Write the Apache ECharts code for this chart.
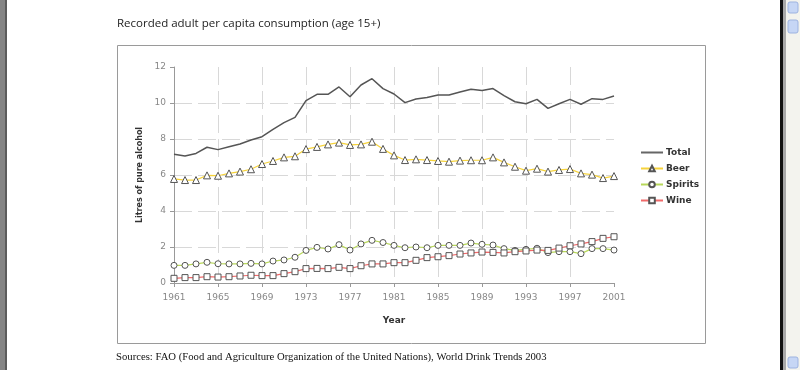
<!DOCTYPE html>
<html>
<head>
<meta charset="utf-8">
<script src="https://cdn.jsdelivr.net/npm/echarts@6/dist/echarts.min.js"></script>
<style>
html,body{margin:0;padding:0;background:#fff;}
#c{width:800px;height:370px;}
</style>
</head>
<body>
<div id="c"></div>
<script>
var years = ['1961','1962','1963','1964','1965','1966','1967','1968','1969','1970',
  '1971','1972','1973','1974','1975','1976','1977','1978','1979','1980',
  '1981','1982','1983','1984','1985','1986','1987','1988','1989','1990',
  '1991','1992','1993','1994','1995','1996','1997','1998','1999','2000','2001'];
var total = [7.15,7.06,7.2,7.54,7.41,7.57,7.72,7.94,8.13,8.54,
  8.91,9.2,10.13,10.48,10.48,10.89,10.35,11.0,11.35,10.8,
  10.5,10.02,10.22,10.3,10.44,10.44,10.61,10.76,10.69,10.8,
  10.41,10.07,9.96,10.2,9.7,9.96,10.2,9.93,10.24,10.2,10.39];
var beer = [5.78,5.72,5.72,5.98,5.96,6.09,6.19,6.32,6.61,6.78,
  6.98,7.04,7.44,7.56,7.7,7.8,7.67,7.7,7.85,7.45,
  7.09,6.83,6.87,6.83,6.78,6.74,6.8,6.82,6.82,6.98,
  6.7,6.46,6.24,6.35,6.19,6.28,6.33,6.09,6.02,5.83,5.94];
var spirits = [0.98,0.98,1.06,1.15,1.07,1.06,1.06,1.09,1.06,1.22,
  1.28,1.43,1.81,1.98,1.89,2.13,1.83,2.17,2.37,2.25,
  2.09,1.96,2.0,1.96,2.09,2.09,2.09,2.22,2.15,2.11,
  1.91,1.81,1.87,1.93,1.69,1.74,1.74,1.63,1.91,1.91,1.83];
var wine = [0.26,0.3,0.3,0.35,0.33,0.35,0.39,0.43,0.41,0.41,
  0.52,0.63,0.8,0.81,0.8,0.87,0.8,0.96,1.06,1.06,
  1.13,1.13,1.26,1.41,1.46,1.52,1.61,1.67,1.72,1.7,
  1.67,1.74,1.78,1.83,1.81,1.94,2.07,2.17,2.3,2.48,2.57];
var seriesNames = ['Total','Beer','Spirits','Wine'];
var titleText = 'Recorded adult per capita consumption (age 15+)';
var sourceText = 'Sources: FAO (Food and Agriculture Organization of the United Nations), World Drink Trends 2003';
var yAxisName = 'Litres of pure alcohol';
var xAxisName = 'Year';

var font = '"DejaVu Sans", Verdana, sans-serif';
var chart = echarts.init(document.getElementById('c'), null, {renderer:'canvas'});
var mk = {color:'#fff', borderColor:'#555', borderWidth:1};
var lineIcon = 'path://M0,0 L0.01,0 L0,0.01 Z M21.99,7 L22,7 L22,6.99 Z M0,2.5 L22,2.5 L22,4.6 L0,4.6 Z';
chart.setOption({
  animation:false,
  backgroundColor:'#fff',
  title:{text:titleText, left:112, top:13,
    textStyle:{fontFamily:'"Open Sans", sans-serif', fontSize:11.5, fontWeight:'normal', color:'#222'}},
  graphic:[
    {type:'rect', shape:{x:0,y:0,width:5,height:370}, style:{fill:'#858585'}, silent:true},
    {type:'rect', shape:{x:5,y:0,width:2,height:370}, style:{fill:'#5c5c5c'}, silent:true},
    {type:'rect', shape:{x:780,y:0,width:3,height:370}, style:{fill:'#111'}, silent:true},
    {type:'rect', shape:{x:783,y:0,width:3,height:370}, style:{fill:'#a8a8a8'}, silent:true},
    {type:'rect', shape:{x:786,y:0,width:14,height:370}, style:{fill:'#f3f3ee'}, silent:true},
    {type:'rect', shape:{x:788,y:2,width:10,height:11,r:2}, style:{fill:'#c6d6f5', stroke:'#9db3e0'}, silent:true},
    {type:'rect', shape:{x:788,y:20,width:10,height:13,r:2}, style:{fill:'#c6d6f5', stroke:'#9db3e0'}, silent:true},
    {type:'rect', shape:{x:788,y:357,width:10,height:11,r:2}, style:{fill:'#c6d6f5', stroke:'#9db3e0'}, silent:true},
    {type:'rect', shape:{x:117.5,y:45.5,width:588,height:298}, style:{fill:'none', stroke:'#9a9a9a', lineWidth:1}, silent:true},
    {type:'text', left:116, top:352, style:{text:sourceText, font:'10.7px "Liberation Serif", serif', fill:'#111'}, silent:true}
  ],
  legend:{orient:'vertical', left:635, top:143, itemGap:7, itemWidth:22, itemHeight:7,
    data:[{name:'Total', icon:lineIcon, itemStyle:{color:'#666'}}, 'Beer', 'Spirits', 'Wine'],
    textStyle:{fontFamily:font, fontSize:9, fontWeight:'bold', color:'#333', padding:[0,0,0,-2]}},
  grid:{left:174, right:186, top:67, bottom:87, containLabel:false},
  xAxis:{type:'category', data:years, boundaryGap:false,
    name:xAxisName, nameLocation:'middle', nameGap:33,
    nameTextStyle:{fontFamily:font, fontSize:9, fontWeight:'bold', color:'#333'},
    axisLine:{lineStyle:{color:'#999', width:1}},
    axisTick:{interval:3, length:4, lineStyle:{color:'#999'}},
    axisLabel:{interval:3, margin:10, fontFamily:font, fontSize:9, color:'#888'},
    splitLine:{show:true, interval:3, showMinLine:false, showMaxLine:false, lineStyle:{color:'#d8d8d8', type:[18,6], width:1}}
  },
  yAxis:{type:'value', min:0, max:12, interval:2,
    name:yAxisName, nameLocation:'middle', nameGap:29, nameRotate:90,
    nameTextStyle:{fontFamily:font, fontSize:8, fontWeight:'bold', color:'#333'},
    axisLine:{show:true, lineStyle:{color:'#999', width:1}},
    axisTick:{show:true, length:4, lineStyle:{color:'#999'}},
    axisLabel:{margin:8, fontFamily:font, fontSize:9, color:'#888'},
    splitLine:{show:true, showMinLine:false, showMaxLine:false, lineStyle:{color:'#d8d8d8', type:[18,6], width:1}}
  },
  series:[
    {name:'Total', type:'line', data:total, symbol:'none', color:'#555',
      lineStyle:{color:'#555', width:1.5}},
    {name:'Beer', type:'line', data:beer, symbol:'triangle', symbolSize:7,
      itemStyle:mk, lineStyle:{color:'#f6d33c', width:1.2}},
    {name:'Spirits', type:'line', data:spirits, symbol:'circle', symbolSize:6,
      itemStyle:mk, lineStyle:{color:'#b8d85a', width:1.2}},
    {name:'Wine', type:'line', data:wine, symbol:'rect', symbolSize:6,
      itemStyle:mk, lineStyle:{color:'#f06a6a', width:1.2}}
  ]
});
</script>
</body>
</html>
